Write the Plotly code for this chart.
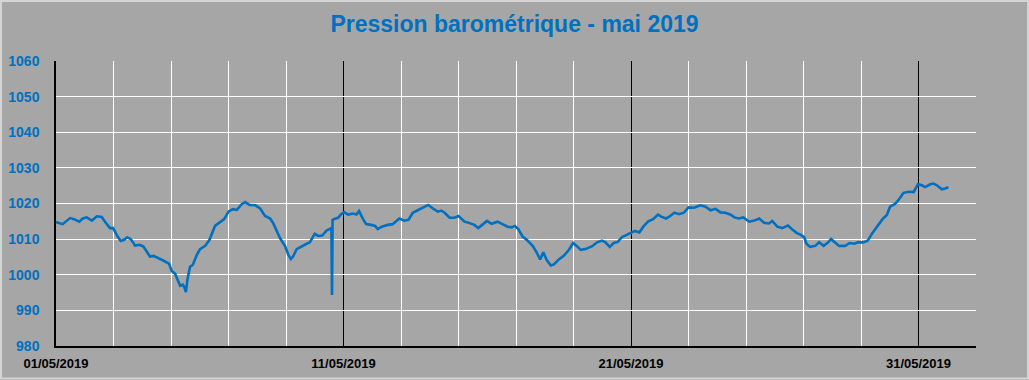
import pandas as pd
import plotly.graph_objects as go

start_date = "2019-05-01"
day_offset = [
    0.0, 0.23, 0.49, 0.63, 0.81, 0.93, 1.07, 1.25, 1.42, 1.59, 1.71, 1.88, 1.99,
    2.11, 2.25, 2.37, 2.48, 2.6, 2.75, 2.92, 3.04, 3.27, 3.39, 3.56, 3.73, 3.93,
    4.03, 4.14, 4.32, 4.41, 4.46, 4.52, 4.57, 4.66, 4.76, 4.9, 5.01, 5.19, 5.34,
    5.53, 5.71, 5.85, 6.0, 6.15, 6.29, 6.46, 6.58, 6.73, 6.93, 7.1, 7.27, 7.45,
    7.56, 7.68, 7.79, 7.97, 8.08, 8.17, 8.25, 8.37, 8.54, 8.72, 8.83, 9.0, 9.12,
    9.26, 9.41, 9.56, 9.58, 9.6, 9.62, 9.66, 9.81, 9.92, 10.02, 10.16, 10.33,
    10.45, 10.54, 10.68, 10.79, 10.96, 11.1, 11.19, 11.33, 11.54, 11.71, 11.94,
    12.12, 12.26, 12.41, 12.58, 12.75, 12.95, 13.11, 13.28, 13.4, 13.52, 13.69,
    13.86, 14.0, 14.09, 14.21, 14.32, 14.44, 14.55, 14.69, 14.84, 14.99, 15.15,
    15.36, 15.53, 15.71, 15.85, 15.96, 16.08, 16.23, 16.4, 16.58, 16.73, 16.84,
    16.95, 17.07, 17.21, 17.32, 17.49, 17.67, 17.84, 17.99, 18.11, 18.25, 18.42,
    18.65, 18.82, 18.99, 19.11, 19.26, 19.4, 19.54, 19.69, 19.84, 20.0, 20.14,
    20.29, 20.43, 20.59, 20.77, 20.94, 21.05, 21.22, 21.33, 21.51, 21.68, 21.85,
    22.0, 22.19, 22.42, 22.59, 22.77, 22.94, 23.11, 23.28, 23.45, 23.6, 23.74,
    23.91, 24.11, 24.29, 24.46, 24.63, 24.8, 24.91, 25.09, 25.26, 25.46, 25.6,
    25.77, 25.91, 26.03, 26.1, 26.23, 26.41, 26.54, 26.7, 26.83, 26.96, 27.1,
    27.24, 27.45, 27.6, 27.77, 27.89, 28.09, 28.24, 28.38, 28.55, 28.75, 28.9,
    29.01, 29.17, 29.28, 29.48, 29.65, 29.83, 29.98, 30.12, 30.23, 30.41, 30.52,
    30.64, 30.81, 30.93, 31.04,
]
pressure = [
    1014.8, 1014.2, 1015.9, 1015.6, 1014.9, 1015.8, 1016.1, 1015.2, 1016.4, 1016.2, 1014.8, 1013.1, 1013.1,
    1011.2, 1009.5, 1009.8, 1010.5, 1010.0, 1008.2, 1008.4, 1007.9, 1005.1, 1005.3, 1004.7, 1004.0, 1003.1,
    1001.0, 1000.3, 996.9, 997.2, 996.6, 995.1, 998.6, 1002.2, 1002.8, 1005.6, 1007.2, 1008.1, 1009.8,
    1013.7, 1014.8, 1015.6, 1017.7, 1018.4, 1018.2, 1019.8, 1020.4, 1019.6, 1019.5, 1018.6, 1016.5, 1015.8,
    1014.4, 1012.1, 1010.3, 1008.0, 1005.6, 1004.4, 1005.2, 1007.2, 1008.0, 1008.7, 1009.1, 1011.5, 1010.9,
    1011.0, 1012.4, 1013.1, 1013.1, 994.3, 1015.4, 1015.6, 1016.0, 1017.0, 1017.6, 1016.9, 1017.2,
    1016.9, 1017.9, 1015.6, 1014.2, 1014.0, 1013.7, 1012.8, 1013.5, 1014.0, 1014.2, 1015.8,
    1015.2, 1015.4, 1017.4, 1018.1, 1018.8, 1019.6, 1018.6, 1017.7, 1018.0, 1017.4, 1016.0,
    1016.0, 1016.5, 1015.8, 1014.9, 1014.7, 1014.4, 1014.0, 1013.1, 1014.2, 1015.1, 1014.3,
    1014.9, 1014.2, 1013.5, 1013.3, 1013.7, 1012.8, 1010.7, 1009.6, 1008.1, 1006.1, 1004.3,
    1006.3, 1004.1, 1002.6, 1002.9, 1004.3, 1005.4, 1007.0, 1008.9, 1008.1, 1007.0, 1007.2,
    1008.0, 1009.1, 1009.6, 1009.1, 1007.8, 1008.9, 1009.2, 1010.6, 1011.2, 1011.9, 1012.3,
    1011.9, 1013.5, 1014.9, 1015.6, 1016.9, 1016.3, 1015.8, 1016.3, 1017.4, 1017.0, 1017.5,
    1018.9, 1018.8, 1019.5, 1019.1, 1018.1, 1018.5, 1017.5, 1017.4, 1016.9, 1016.1, 1015.8,
    1016.1, 1014.9, 1015.2, 1015.8, 1014.6, 1014.4, 1015.1, 1013.5, 1013.1, 1013.8, 1012.8,
    1011.7, 1011.2, 1010.5, 1008.7, 1007.8, 1008.1, 1009.1, 1008.1, 1008.9, 1010.0, 1009.1,
    1008.1, 1008.1, 1008.9, 1008.7, 1009.1, 1009.1, 1009.6, 1011.5, 1013.3, 1015.6, 1016.8,
    1019.1, 1019.8, 1020.7, 1023.0, 1023.3, 1023.2, 1025.4, 1025.1, 1024.6, 1025.4, 1025.6,
    1025.1, 1024.0, 1024.2, 1024.6,
]
title_text = "Pression barométrique - mai 2019"
x_range = ["2019-05-01", "2019-06-02"]
y_range = [980, 1060]

t0 = pd.Timestamp(start_date)
times = [t0 + pd.to_timedelta(d, unit="D") for d in day_offset]

BLUE = "#0070C0"
BG = "#A6A6A6"
DAY_MS = 86400000
W, H = 1029, 380
ML, MR, MT, MB = 56, 53, 61, 33.5
PW, PH = W - ML - MR, H - MT - MB

fig = go.Figure()
fig.add_trace(go.Scatter(x=times, y=pressure, mode="lines",
                         line=dict(color=BLUE, width=2.6), hoverinfo="x+y",
                         showlegend=False))

fig.update_layout(
    width=W, height=H,
    paper_bgcolor=BG, plot_bgcolor=BG,
    margin=dict(l=ML, r=MR, t=MT, b=MB, pad=0),
    title=dict(text=f"<b>{title_text}</b>", x=0.5, xanchor="center",
               y=1 - 24 / H, yanchor="middle", yref="container",
               font=dict(family="Liberation Sans, Arial", size=23, color=BLUE)),
    font=dict(family="Liberation Sans, Arial"),
    shapes=[dict(type="rect", xref="paper", yref="paper",
                 x0=(1 - ML) / PW, x1=1 + (MR - 1) / PW,
                 y0=-(MB - 1) / PH, y1=1 + (MT - 1) / PH,
                 line=dict(color="#D4D4D4", width=2), layer="above")],
)
fig.update_xaxes(
    type="date", range=x_range, automargin=False,
    tick0=start_date, dtick=10 * DAY_MS, tickformat="<b>%d/%m/%Y</b>",
    tickfont=dict(size=13, color="black"),
    showgrid=True, gridcolor="black", gridwidth=1,
    minor=dict(dtick=2 * DAY_MS, tick0=start_date, showgrid=True,
               gridcolor="white", gridwidth=1),
    showline=True, linecolor="black", linewidth=2,
    ticks="", ticklabelstandoff=4, zeroline=False,
)
fig.update_yaxes(
    range=y_range, dtick=10, tick0=980, automargin=False,
    tickfont=dict(size=14, color=BLUE),
    tickformat="d",
    showgrid=True, gridcolor="white", gridwidth=1,
    showline=True, linecolor="black", linewidth=1.5,
    ticks="", ticklabelstandoff=12, zeroline=False,
    tickprefix="<b>", ticksuffix="</b>",
)
fig.write_html("out.html", config={"displayModeBar": False},
               post_script="document.body.style.margin='0';"
                           "document.body.style.background='" + BG + "';")
